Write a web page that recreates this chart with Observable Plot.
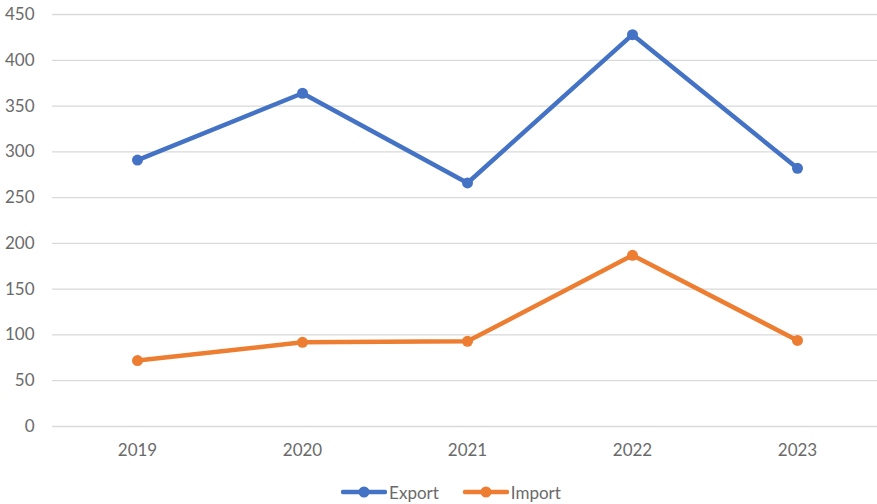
<!DOCTYPE html>
<html>
<head>
<meta charset="utf-8">
<script src="https://cdn.jsdelivr.net/npm/d3@7"></script>
<script src="https://cdn.jsdelivr.net/npm/@observablehq/plot@0.6"></script>
<style>
  body { margin: 0; background: #fff; font-family: Lato, "Open Sans", sans-serif; }
  #legend { display: flex; justify-content: center; align-items: center; height: 28px; padding-top: 2px; color: #6a6a6a; font-size: 17px; padding-left: 25px; }
  .item { display: flex; align-items: center; margin: 0 12px; }
  .item svg { margin-right: 2px; }
</style>
</head>
<body>
<div id="chart"></div>
<div id="legend"></div>
<script>
const years = ["2019", "2020", "2021", "2022", "2023"];
const exportValues = [291, 364, 266, 428, 282];
const importValues = [72, 92, 93, 187, 94];
const seriesNames = ["Export", "Import"];
const seriesColors = ["#4472C4", "#ED7D31"];
const yTicks = [0, 50, 100, 150, 200, 250, 300, 350, 400, 450];

const data = [];
years.forEach((y, i) => {
  data.push({year: y, value: exportValues[i], series: seriesNames[0]});
  data.push({year: y, value: importValues[i], series: seriesNames[1]});
});

const chart = Plot.plot({
  width: 877,
  height: 476,
  marginLeft: 52,
  marginRight: 0,
  marginTop: 14,
  marginBottom: 50,
  style: {fontFamily: "Lato, 'Open Sans', sans-serif", fontSize: "17px", color: "#6a6a6a", background: "#fff"},
  x: {type: "point", domain: years, range: [52, 881], padding: 0.5, label: null},
  y: {domain: [0, 450], label: null},
  color: {domain: seriesNames, range: seriesColors},
  marks: [
    Plot.gridY(yTicks, {stroke: "#d9d9d9", strokeOpacity: 1, strokeWidth: 1.3}),
    Plot.axisY(yTicks, {tickSize: 0, tickPadding: 18, label: null}),
    Plot.axisX({tickSize: 0, tickPadding: 17, label: null}),
    Plot.line(data, {x: "year", y: "value", z: "series", stroke: "series", strokeWidth: 4.5}),
    Plot.dot(data, {x: "year", y: "value", fill: "series", r: 5.5})
  ]
});
document.getElementById("chart").appendChild(chart);

const legend = document.getElementById("legend");
seriesNames.forEach((name, i) => {
  const item = document.createElement("div");
  item.className = "item";
  item.innerHTML = `<svg width="46" height="14"><line x1="2" x2="44" y1="7" y2="7" stroke="${seriesColors[i]}" stroke-width="4.5" stroke-linecap="round"/><circle cx="23" cy="7" r="5.5" fill="${seriesColors[i]}"/></svg><span>${name}</span>`;
  legend.appendChild(item);
});
</script>
</body>
</html>
